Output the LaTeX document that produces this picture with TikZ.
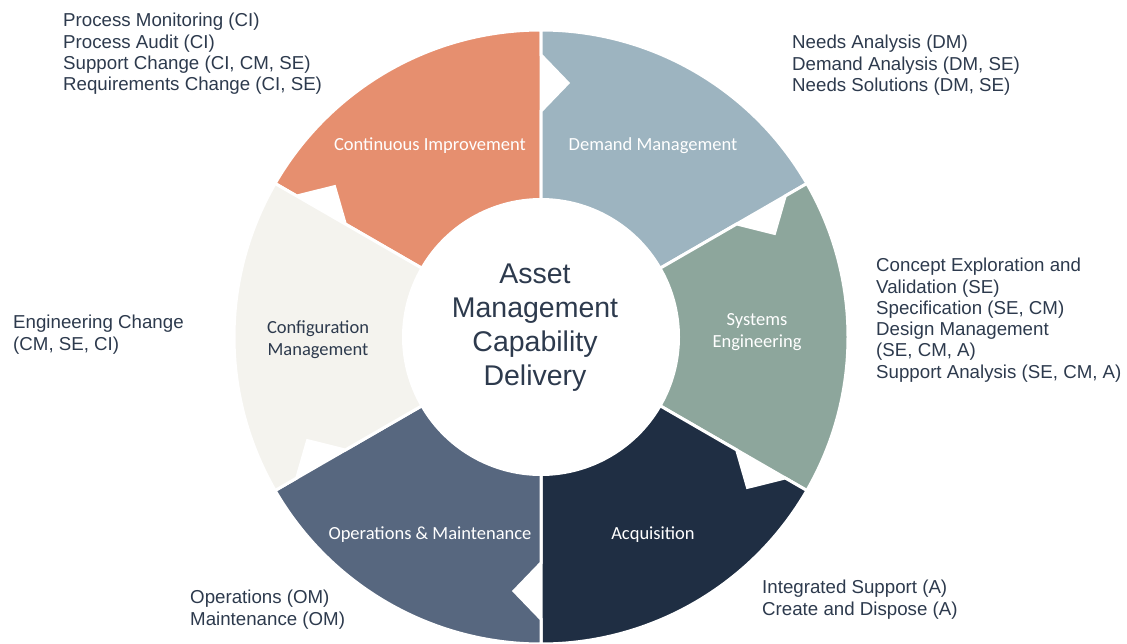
\documentclass[tikz,border=0pt]{standalone}
\usepackage{fontspec}
\setmainfont{Liberation Sans}
\newfontfamily\segfont{Carlito}
\usetikzlibrary{calc}

\definecolor{ciOrange}{RGB}{230,143,111}
\definecolor{dmBlue}{RGB}{157,180,192}
\definecolor{seGreen}{RGB}{141,166,156}
\definecolor{acqNavy}{RGB}{31,46,67}
\definecolor{omSlate}{RGB}{87,103,127}
\definecolor{cmIvory}{RGB}{244,243,238}
\definecolor{inkDark}{RGB}{45,58,77}

% ring geometry (radii from the hub centre)
\def\ringInner{137.5pt}
\def\ringOuter{307pt}
\def\notchIn{226pt}
\def\notchOut{282pt}
\def\notchMid{254pt}
\def\notchDepth{27pt}

% one ring segment running clockwise from angle #1 to angle #2,
% with a V notch cut into its leading edge
\newcommand{\cyclesegment}[3]{%
  \path[ringseg, fill=#3]
    (#2:\ringInner) -- (#2:\ringOuter)
    arc[start angle=#2, end angle=#1, radius=\ringOuter]
    -- (#1:\notchOut)
    -- ($(#1:\notchMid)+(#1-90:\notchDepth)$)
    -- (#1:\notchIn)
    -- (#1:\ringInner)
    arc[start angle=#1, end angle=#2, radius=\ringInner]
    -- cycle;}

\begin{document}
\begin{tikzpicture}[x=1pt, y=1pt,
  ringseg/.style={draw=white, line width=3pt, line join=miter},
  seglabel/.style={font=\segfont\fontsize{18.5}{22}\selectfont, text=white,
    align=center, inner sep=0pt},
  notelist/.style={font=\fontsize{18.7}{21.3}\selectfont, text=inkDark,
    align=left, anchor=north west, inner sep=0pt},
  hubtext/.style={font=\fontsize{28.5}{34}\selectfont, text=inkDark,
    align=center, inner sep=0pt}]
\useasboundingbox (0,0) rectangle (1127,-643);
\clip (0,0) rectangle (1127,-643);

% the six-stage cycle
\begin{scope}[shift={(541,-337)}]
  \cyclesegment{150}{90}{ciOrange}
  \cyclesegment{90}{30}{dmBlue}
  \cyclesegment{30}{-30}{seGreen}
  \cyclesegment{-30}{-90}{acqNavy}
  \cyclesegment{-90}{-150}{omSlate}
  \cyclesegment{-150}{-210}{cmIvory}
\end{scope}

% hub title
\node[hubtext] (hub) at (535,-328) {Asset\\Management\\Capability\\Delivery};

% stage names
\node[seglabel] (ci) at (430,-146) {Continuous Improvement};
\node[seglabel] (dm) at (653,-146) {Demand Management};
\node[seglabel] (se) at (757,-332) {Systems\\Engineering};
\node[seglabel] (acq) at (653,-535) {Acquisition};
\node[seglabel] (om) at (430,-535) {Operations \& Maintenance};
\node[seglabel, text=inkDark] (cm) at (318,-340) {Configuration\\Management};

% activities of each stage
\node[notelist] (ciList) at (63,-13)
  {Process Monitoring (CI)\\Process Audit (CI)\\Support Change (CI, CM, SE)\\Requirements Change (CI, SE)};
\node[notelist] (dmList) at (792,-35)
  {Needs Analysis (DM)\\Demand Analysis (DM, SE)\\Needs Solutions (DM, SE)};
\node[notelist] (seList) at (876,-258)
  {Concept Exploration and\\Validation (SE)\\Specification (SE, CM)\\Design Management\\(SE, CM, A)\\Support Analysis (SE, CM, A)};
\node[notelist] (cmList) at (13,-315)
  {Engineering Change\\(CM, SE, CI)};
\node[notelist] (acqList) at (762,-580)
  {Integrated Support (A)\\Create and Dispose (A)};
\node[notelist] (omList) at (190,-590)
  {Operations (OM)\\Maintenance (OM)};
\end{tikzpicture}
\end{document}
